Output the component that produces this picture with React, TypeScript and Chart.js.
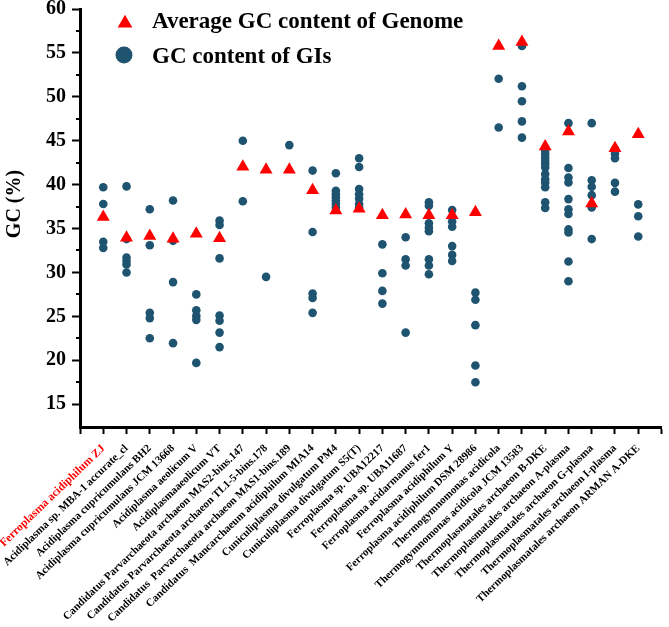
import React, { useEffect, useRef } from "react";
import { Chart, registerables } from "chart.js";

Chart.register(...registerables);

const categories = [
  "Ferroplasma acidiphilum ZJ",
  "Acidiplasma sp. MBA-1 accurate_cl",
  "Acidiplasma cupricumulans BH2",
  "Acidiplasma cupricumulans JCM 13668",
  "Acidiplasma aeolicum V",
  "Acidiplasmaaeolicum VT",
  "Candidatus Parvarchaeota archaeon MAS2-bins.147",
  "Candidatus Parvarchaeota archaeon TL1-5-bins.178",
  "Candidatus  Parvarchaeota archaeon MAS1-bins.189",
  "Candidatus  Mancarchaeum acidiphilum MIA14",
  "Cuniculiplasma divulgatum PM4",
  "Cuniculiplasma divulgatum S5(T)",
  "Ferroplasma sp. UBA12217",
  "Ferroplasma sp. UBA11687",
  "Ferroplasma acidarmanus fer1",
  "Ferroplasma acidiphilum Y",
  "Ferroplasma acidiphilum DSM 28986",
  "Thermogymnomonas acidicola",
  "Thermogymnomonas acidicola JCM 13583",
  "Thermoplasmatales archaeon B-DKE",
  "Thermoplasmatales archaeon A-plasma",
  "Thermoplasmatales archaeon G-plasma",
  "Thermoplasmatales archaeon I-plasma",
  "Thermoplasmatales archaeon ARMAN A-DKE",
];

const avgGC = [
  36.3, 33.95, 34.15, 33.85, 34.4, 33.9, 42.05, 41.7, 41.7, 39.35, 37.05, 37.25,
  36.5, 36.6, 36.5, 36.5, 36.85, 55.8, 56.25, 44.35, 46.05, 37.85, 44.15, 45.75,
];

const giGC: number[][] = [
  [39.7, 37.8, 33.5, 32.8],
  [39.8, 33.8, 31.7, 31.3, 30.9, 30.0],
  [37.2, 33.1, 25.4, 24.8, 22.5],
  [38.2, 33.6, 28.9, 21.95],
  [27.5, 25.7, 25.05, 24.6, 19.7],
  [35.9, 35.4, 31.6, 25.1, 24.5, 23.15, 21.5],
  [45.0, 38.1],
  [29.5],
  [44.5],
  [41.6, 34.6, 27.6, 27.1, 25.4],
  [41.3, 39.3, 38.9, 38.55, 38.2, 37.8, 37.4],
  [43.0, 42.0, 39.5, 38.9, 38.4, 37.8, 37.4],
  [33.2, 29.9, 27.9, 26.45],
  [34.0, 31.5, 30.8, 23.15],
  [38.0, 37.6, 35.6, 35.1, 34.7, 31.5, 30.8, 29.8],
  [37.1, 35.8, 35.2, 33.0, 32.0, 31.3],
  [27.7, 26.9, 24.0, 19.4, 17.5],
  [52.05, 46.5],
  [55.8, 51.2, 49.5, 47.2, 45.35],
  [43.85, 43.5, 43.1, 42.7, 42.35, 41.95, 41.2, 40.6, 40.25, 39.7, 38.0, 37.35],
  [47.0, 41.9, 40.8, 40.25, 38.35, 37.2, 36.65, 34.9, 34.55, 31.25, 29.0],
  [47.0, 40.5, 39.75, 38.8, 37.4, 33.8],
  [44.05, 43.5, 43.0, 40.2, 39.2],
  [37.75, 36.4, 34.1],
];

const yTicks = [15, 20, 25, 30, 35, 40, 45, 50, 55, 60];
const yMinorTicks = [17.5, 22.5, 27.5, 32.5, 37.5, 42.5, 47.5, 52.5, 57.5];

const legendLabels = ["Average GC content of Genome", "GC content of GIs"];
const yTitle = "GC (%)";

const RED = "#ff0000";
const TEAL = "#1f5470";
const SERIF = '"Liberation Serif", "Times New Roman", serif';

export default function App() {
  const ref = useRef<HTMLCanvasElement>(null);

  useEffect(() => {
    if (!ref.current) return;

    const triData = avgGC.map((v, i) => ({ x: i + 1, y: v }));
    const circData: { x: number; y: number }[] = [];
    giGC.forEach((arr, i) => arr.forEach((v) => circData.push({ x: i + 1, y: v })));

    const extras = {
      id: "extras",
      afterDraw(chart: any) {
        const c = chart.ctx;
        const ys = chart.scales.y;
        const left = chart.chartArea.left;
        c.save();
        c.strokeStyle = "#000";
        c.lineWidth = 2;
        yMinorTicks.forEach((v) => {
          const py = Math.round(ys.getPixelForValue(v));
          c.beginPath();
          c.moveTo(left - 4, py);
          c.lineTo(left, py);
          c.stroke();
        });
        // y-axis title
        c.save();
        c.translate(20, 204);
        c.rotate(-Math.PI / 2);
        c.fillStyle = "#000";
        c.font = `bold 20px ${SERIF}`;
        c.textAlign = "center";
        c.textBaseline = "alphabetic";
        c.fillText(yTitle, 0, 0);
        c.restore();
        // legend
        const mx = 125;
        const rows = [21, 55];
        const r = 8.5;
        c.fillStyle = RED;
        c.beginPath();
        const cy0 = rows[0] + r / 4;
        c.moveTo(mx, cy0 - r);
        c.lineTo(mx + r * Math.cos(Math.PI / 6), cy0 + r / 2);
        c.lineTo(mx - r * Math.cos(Math.PI / 6), cy0 + r / 2);
        c.closePath();
        c.fill();
        c.fillStyle = TEAL;
        c.beginPath();
        c.arc(mx - 1, rows[1], 8.5, 0, Math.PI * 2);
        c.fill();
        c.fillStyle = "#000";
        c.font = `bold 23px ${SERIF}`;
        c.textAlign = "left";
        c.textBaseline = "alphabetic";
        c.fillText(legendLabels[0], 152, 28);
        c.fillText(legendLabels[1], 152, 63);
        c.restore();
      },
    };

    const chart = new Chart(ref.current, {
      type: "scatter",
      data: {
        datasets: [
          {
            label: legendLabels[0],
            data: triData,
            pointStyle: "triangle",
            pointRadius: 7.5,
            pointHoverRadius: 7.5,
            backgroundColor: RED,
            borderColor: RED,
            borderWidth: 0,
          },
          {
            label: legendLabels[1],
            data: circData,
            pointStyle: "circle",
            pointRadius: 4.3,
            pointHoverRadius: 4.3,
            backgroundColor: TEAL,
            borderColor: TEAL,
            borderWidth: 0,
          },
        ],
      },
      options: {
        responsive: false,
        animation: false,
        devicePixelRatio: 1,
        layout: { padding: { left: 0, top: 9, right: 4, bottom: 0 } },
        plugins: {
          legend: { display: false },
          tooltip: { enabled: false },
        },
        scales: {
          x: {
            type: "linear",
            min: 0,
            max: 25,
            afterBuildTicks: (scale: any) => {
              const t = [];
              for (let i = 0; i <= categories.length + 1; i++) t.push({ value: i });
              scale.ticks = t;
            },
            afterFit: (scale: any) => {
              scale.height = 200;
              scale.paddingLeft = 0;
              scale.paddingRight = 0;
            },
            grid: {
              drawOnChartArea: false,
              drawTicks: true,
              tickLength: 7,
              tickColor: "#000",
              tickWidth: 2,
            },
            border: { display: true, color: "#000", width: 3 },
            ticks: {
              autoSkip: false,
              minRotation: 44,
              maxRotation: 44,
              padding: 8,
              font: (c: any) => ({
                family: SERIF,
                size: c.tick && c.tick.value === 1 ? 11.5 : 11,
                weight: "bold",
              }),
              color: (c: any) => (c.tick && c.tick.value === 1 ? RED : "#000"),
              callback: (v: any) => categories[Number(v) - 1] ?? "",
            },
          },
          y: {
            type: "linear",
            min: 12.4,
            max: 60,
            afterBuildTicks: (scale: any) => {
              scale.ticks = yTicks.map((v) => ({ value: v }));
            },
            afterFit: (scale: any) => {
              scale.width = 80;
              scale.paddingTop = 0;
              scale.paddingBottom = 0;
            },
            grid: {
              drawOnChartArea: false,
              drawTicks: true,
              tickLength: 8,
              tickColor: "#000",
              tickWidth: 2,
            },
            border: { display: true, color: "#000", width: 3 },
            ticks: {
              padding: 6,
              color: "#000",
              font: { family: SERIF, size: 20, weight: "bold" },
              callback: (v: any) => String(v),
            },
          },
        },
      },
      plugins: [extras],
    } as any);

    return () => chart.destroy();
  }, []);

  return (
    <div style={{ position: "absolute", left: 0, top: 0, width: 669, height: 627 }}>
      <canvas ref={ref} width={669} height={627} style={{ width: 669, height: 627 }} />
    </div>
  );
}
